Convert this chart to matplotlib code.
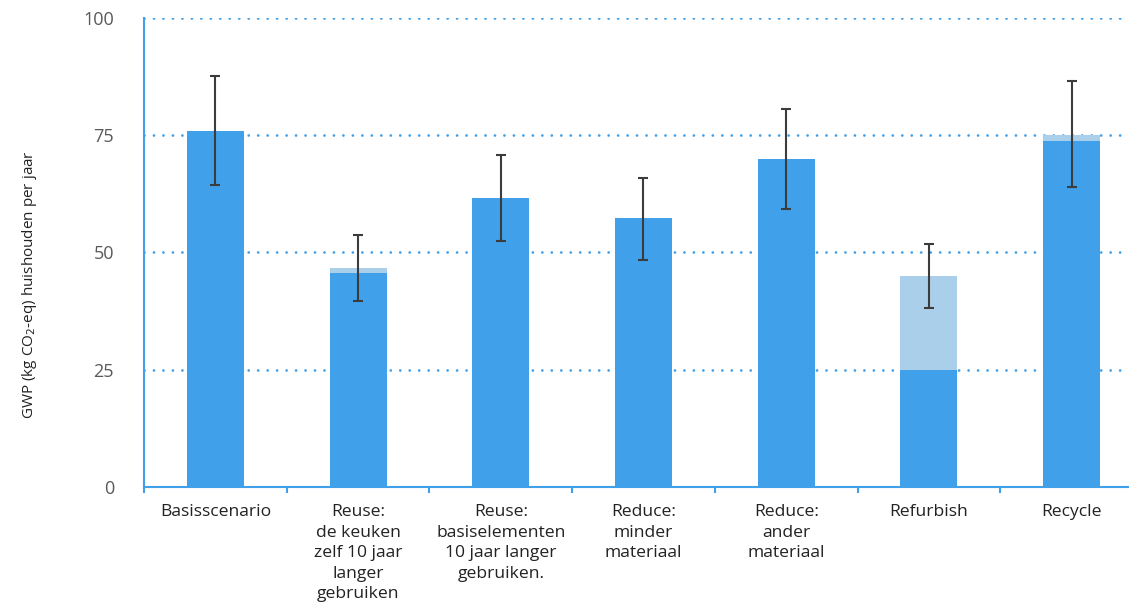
import matplotlib.pyplot as plt
import numpy as np

# data
categories = ["Basisscenario",
              "Reuse:\nde keuken\nzelf 10 jaar\nlanger\ngebruiken",
              "Reuse:\nbasiselementen\n10 jaar langer\ngebruiken.",
              "Reduce:\nminder\nmateriaal",
              "Reduce:\nander\nmateriaal",
              "Refurbish",
              "Recycle"]
dark = [75.9, 45.6, 61.6, 57.4, 69.9, 25.0, 73.8]
total = [75.9, 46.7, 61.6, 57.4, 69.9, 45.0, 75.1]
err_low = [64.4, 39.7, 52.5, 48.4, 59.3, 38.2, 64.0]
err_high = [87.6, 53.7, 70.8, 65.9, 80.6, 51.8, 86.6]
err_mid = [76.0, 46.7, 61.6, 57.1, 69.9, 45.0, 75.3]

blue = "#40A0EA"
light = "#AACFEB"

plt.rcParams['font.family'] = ['Open Sans', 'DejaVu Sans']

fig = plt.figure(figsize=(11.29, 6.10), dpi=100)
ax = fig.add_axes([144 / 1129, 1 - 487 / 610, 1 - 144 / 1129, (487 - 18) / 610])

x = np.arange(len(categories))
light_part = np.array(total) - np.array(dark)
ax.bar(x, dark, width=0.4, color=blue, zorder=2)
ax.bar(x, light_part, bottom=dark, width=0.4, color=light, zorder=2)

mid = np.array(err_mid)
yerr = [mid - np.array(err_low), np.array(err_high) - mid]
ax.errorbar(x, mid, yerr=yerr, fmt='none', ecolor='#3c3c3c', elinewidth=1.5,
            capsize=3.8, capthick=1.5, zorder=3)

ax.set_yticks([0, 25, 50, 75, 100])
ax.yaxis.grid(True, linestyle=(0, (0.01, 3.4)), color=blue, linewidth=2,
              dash_capstyle='round')
ax.set_axisbelow(True)

for s in ['top', 'right']:
    ax.spines[s].set_visible(False)
for s in ['left', 'bottom']:
    ax.spines[s].set_color(blue)
    ax.spines[s].set_linewidth(1.5)

ax.tick_params(axis='y', length=0, pad=21.6, labelsize=13, labelcolor='#5a5a5a')
ax.set_xticks(x)
ax.set_xticklabels(categories, fontsize=12.6, color='#222222', linespacing=1.37)
ax.tick_params(axis='x', length=0, pad=12.5)
ax.set_xticks(np.arange(-0.5, 6, 1), minor=True)
ax.tick_params(axis='x', which='minor', length=4, width=1.5, color=blue)

ax.set_ylim(0, 100)
ax.set_xlim(-0.5, 6.402)

fig.text(30 / 1129, 1 - 285 / 610, "GWP (kg CO$_2$-eq) huishouden per jaar",
         rotation=90, ha='center', va='center', fontsize=11, color='#222222')

fig.savefig("out.png", dpi=100)
